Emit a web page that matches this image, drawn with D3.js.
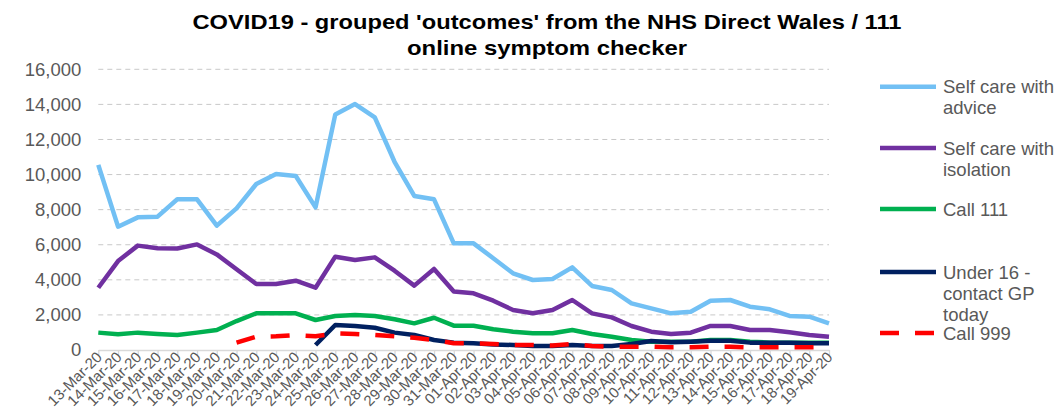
<!DOCTYPE html>
<html lang="en">
  <head>
    <meta charset="utf-8">
    <title>NHS Direct Wales / 111 outcomes</title>
    <script src="https://d3js.org/d3.v7.min.js"></script>
    <style>
      body { margin: 0; background: #fff; }
    </style>
  </head>
  <body>
    <script type="text/javascript">
      // dates 13-Mar-20 .. 19-Apr-20
      const dates = [
        "13-Mar-20","14-Mar-20","15-Mar-20","16-Mar-20","17-Mar-20","18-Mar-20","19-Mar-20",
        "20-Mar-20","21-Mar-20","22-Mar-20","23-Mar-20","24-Mar-20","25-Mar-20","26-Mar-20",
        "27-Mar-20","28-Mar-20","29-Mar-20","30-Mar-20","31-Mar-20","01-Apr-20","02-Apr-20",
        "03-Apr-20","04-Apr-20","05-Apr-20","06-Apr-20","07-Apr-20","08-Apr-20","09-Apr-20",
        "10-Apr-20","11-Apr-20","12-Apr-20","13-Apr-20","14-Apr-20","15-Apr-20","16-Apr-20",
        "17-Apr-20","18-Apr-20","19-Apr-20"
      ];

      const selfCareAdvice = [
        10550, 7030, 7560, 7600, 8590, 8590, 7090, 8075, 9460, 10030, 9920, 8130, 13430, 14020,
        13260, 10730, 8780, 8590, 6080, 6080, 5230, 4370, 3990, 4050, 4710, 3650, 3420, 2660,
        2375, 2090, 2185, 2810, 2850, 2470, 2320, 1940, 1900, 1520
      ];
      const selfCareIsolation = [
        3550, 5070, 5950, 5800, 5790, 6020, 5450, 4600, 3760, 3760, 3950, 3550, 5320, 5130,
        5280, 4520, 3670, 4620, 3330, 3230, 2810, 2280, 2090, 2280, 2850, 2090, 1860, 1370,
        1045, 910, 990, 1370, 1370, 1140, 1140, 1010, 855, 760
      ];
      const call111 = [
        990, 895, 990, 915, 855, 990, 1140, 1650, 2090, 2090, 2090, 1710, 1940, 2000,
        1940, 1750, 1520, 1840, 1385, 1385, 1180, 1045, 950, 950, 1140, 910, 760, 570,
        475, 475, 475, 570, 570, 475, 420, 420, 420, 420
      ];
      const under16 = [
        null, null, null, null, null, null, null, null, null, null, null, 285, 1425, 1370,
        1270, 990, 855, 570, 420, 380, 320, 285, 230, 230, 285, 230, 230, 340,
        510, 440, 475, 530, 530, 420, 420, 420, 380, 380
      ];
      const call999 = [
        null, null, null, null, null, null, null, 420, 760, 780, 855, 780, 950, 915,
        855, 780, 700, 570, 380, 380, 340, 285, 285, 250, 340, 230, 190, 190,
        190, 150, 150, 190, 190, 150, 150, 150, 150, 150
      ];

      const yTicks = [0, 2000, 4000, 6000, 8000, 10000, 12000, 14000, 16000];

      const series = [
        { name: ["Self care with", "advice"], values: selfCareAdvice, color: "#72c0f4", dash: null },
        { name: ["Self care with", "isolation"], values: selfCareIsolation, color: "#7030a0", dash: null },
        { name: ["Call 111"], values: call111, color: "#00b050", dash: null },
        { name: ["Under 16 -", "contact GP", "today"], values: under16, color: "#002060", dash: null },
        { name: ["Call 999"], values: call999, color: "#ff0000", dash: "19,16" }
      ];

      const width = 1062;
      const height = 417;
      const font = "'Liberation Sans', Arial, sans-serif";
      const textGray = "#595959";

      const svg = d3.select("body")
        .append("svg")
        .attr("width", width)
        .attr("height", height);

      const xScale = d3.scalePoint()
        .domain(dates)
        .range([98.3, 829]);

      const yScale = d3.scaleLinear()
        .domain([0, 16000])
        .range([350, 69.3]);

      // title
      svg.append("text")
        .attr("x", 547)
        .attr("y", 29)
        .attr("text-anchor", "middle")
        .attr("font-family", font)
        .attr("font-size", "21px")
        .attr("font-weight", "bold")
        .attr("fill", "#000")
        .attr("textLength", 709)
        .attr("lengthAdjust", "spacingAndGlyphs")
        .text("COVID19 - grouped 'outcomes' from the NHS Direct Wales / 111");

      svg.append("text")
        .attr("x", 547)
        .attr("y", 55)
        .attr("text-anchor", "middle")
        .attr("font-family", font)
        .attr("font-size", "21px")
        .attr("font-weight", "bold")
        .attr("fill", "#000")
        .attr("textLength", 280)
        .attr("lengthAdjust", "spacingAndGlyphs")
        .text("online symptom checker");

      // gridlines
      svg.append("g")
        .attr("class", "grid")
        .selectAll("line")
        .data(yTicks.filter(d => d > 0))
        .enter()
        .append("line")
        .attr("x1", xScale.range()[0])
        .attr("x2", xScale.range()[1])
        .attr("y1", d => yScale(d))
        .attr("y2", d => yScale(d))
        .attr("stroke", "#c8c8c8")
        .attr("stroke-width", 1)
        .attr("stroke-dasharray", "5,4");

      // y axis
      const yAxis = svg.append("g")
        .attr("class", "y-axis")
        .attr("transform", "translate(" + xScale.range()[0] + ",0)")
        .call(d3.axisLeft(yScale)
          .tickValues(yTicks)
          .tickSize(0)
          .tickPadding(17)
          .tickFormat(d3.format(",")));
      yAxis.select(".domain").remove();
      yAxis.selectAll("text")
        .attr("font-family", font)
        .attr("font-size", "18.5px")
        .attr("fill", textGray);

      // x axis
      const xAxis = svg.append("g")
        .attr("class", "x-axis")
        .attr("transform", "translate(0," + yScale(0) + ")")
        .call(d3.axisBottom(xScale).tickSize(5).tickSizeOuter(0).tickPadding(4));
      xAxis.select(".domain").attr("stroke", "#d9d9d9").attr("stroke-width", 1.3);
      xAxis.selectAll(".tick line").attr("stroke", "#d9d9d9").attr("stroke-width", 1.3);
      xAxis.selectAll("text")
        .attr("font-family", font)
        .attr("font-size", "15px")
        .attr("fill", textGray)
        .attr("text-anchor", "end")
        .attr("dy", null)
        .attr("transform", "translate(4,8) rotate(-45)")
        .attr("y", 0)
        .attr("x", 0);

      // lines
      const line = d3.line()
        .defined(d => d.v !== null)
        .x(d => xScale(d.date))
        .y(d => yScale(d.v));

      svg.append("g")
        .attr("class", "lines")
        .selectAll("path")
        .data(series)
        .enter()
        .append("path")
        .attr("d", s => line(s.values.map((v, i) => ({ date: dates[i], v: v }))))
        .attr("fill", "none")
        .attr("stroke", s => s.color)
        .attr("stroke-width", 4.5)
        .attr("stroke-linejoin", "round")
        .attr("stroke-dasharray", s => s.dash);

      // legend
      const legendY = [86.7, 148, 209, 272, 333];
      const legend = svg.append("g")
        .attr("class", "legend")
        .selectAll("g")
        .data(series)
        .enter()
        .append("g")
        .attr("transform", (d, i) => "translate(880," + legendY[i] + ")");

      legend.append("line")
        .attr("x1", 0)
        .attr("x2", 56)
        .attr("stroke", d => d.color)
        .attr("stroke-width", 4.5)
        .attr("stroke-dasharray", d => d.dash);

      legend.append("text")
        .attr("font-family", font)
        .attr("font-size", "18.5px")
        .attr("fill", textGray)
        .selectAll("tspan")
        .data(d => d.name)
        .enter()
        .append("tspan")
        .attr("x", 63)
        .attr("y", (d, i) => 6.5 + i * 21)
        .text(d => d);
    </script>
  </body>
</html>
